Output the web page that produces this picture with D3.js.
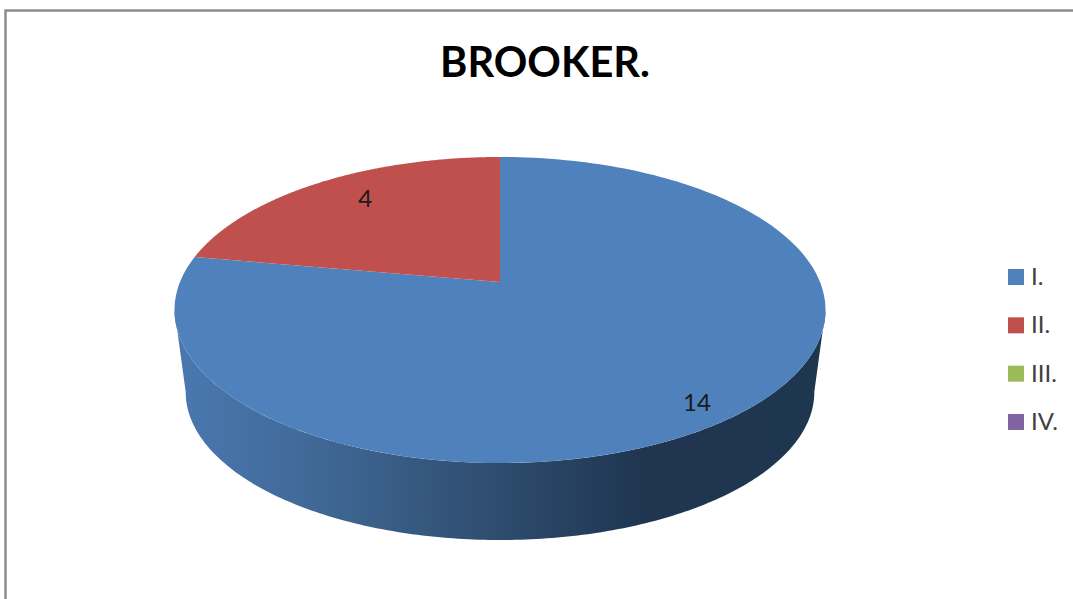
<!DOCTYPE html>
<html><head><meta charset="utf-8">
<script src="https://cdn.jsdelivr.net/npm/d3@7/dist/d3.min.js"></script>
<style>html,body{margin:0;padding:0;background:#fff}svg{display:block}</style>
</head><body><svg id="c" width="1073" height="599"></svg>
<script>
const categories = ["I.", "II.", "III.", "IV."];
const values = [14, 4, 0, 0];
const colors = ["#4f81bd", "#c0504d", "#9bbb59", "#8064a2"];
const titleText = "BROOKER.";

const svg = d3.select("#c");
const W = 1073, H = 599;
const FONT = "Lato,'Open Sans',sans-serif";

// chart frame
svg.append("path").attr("d", `M5.5,${H}V10.5H${W}`).attr("fill", "none").attr("stroke", "#8c8c8c").attr("stroke-width", 2.5);

svg.append("text").attr("x", 545).attr("y", 77).attr("text-anchor", "middle")
  .attr("font-family", FONT).attr("font-weight", 700).attr("font-size", 42)
  .attr("fill", "#000").attr("textLength", 210).attr("lengthAdjust", "spacingAndGlyphs").text(titleText);

// perspective projection of a flat pie
const persp = -0.183;
function project(theta, disc, r = 1) {
  const u = r * Math.sin(theta), v = -r * Math.cos(theta), w = 1 + persp * v;
  return [disc.cx + disc.dx * u / w, disc.cy + disc.dy * v / w];
}
const topDisc = {cx: 500, cy: 282, dx: 320, dy: 147.9};
const baseDisc = {cx: 500, cy: 365, dx: 309, dy: 143};

const pie = d3.pie().sort(null).value(d => d);
const arcs = pie(values);
const line = d3.line();
const sample = (a0, a1) => d3.range(0, 201).map(i => a0 + (a1 - a0) * i / 200);

const defs = svg.append("defs");
const grad = defs.append("linearGradient").attr("id", "side").attr("gradientUnits", "userSpaceOnUse")
  .attr("x1", 174).attr("x2", 826).attr("y1", 0).attr("y2", 0);
[[0, "#4a78b0"], [0.2, "#416a99"], [0.5, "#2e4c6e"], [0.72, "#1f3550"], [1, "#1f3650"]]
  .forEach(([o, c]) => grad.append("stop").attr("offset", o).attr("stop-color", c));

// visible side wall between the two silhouette points
const visA = Math.acos(-0.183), visB = 2 * Math.PI - visA;
arcs.forEach(d => {
  const a0 = Math.max(d.startAngle, visA), a1 = Math.min(d.endAngle, visB);
  if (a1 <= a0) return;
  const pts = sample(a0, a1);
  svg.append("path").attr("fill", "url(#side)")
    .attr("d", line(pts.map(t => project(t, topDisc)).concat(pts.slice().reverse().map(t => project(t, baseDisc)))) + "Z");
});

// top faces
arcs.forEach((d, i) => {
  if (d.endAngle <= d.startAngle) return;
  const pts = sample(d.startAngle, d.endAngle).map(t => project(t, topDisc));
  pts.push([topDisc.cx, topDisc.cy]);
  svg.append("path").attr("fill", colors[i]).attr("d", line(pts) + "Z");
});

// data labels: placed along each slice's mid angle, slightly rotated
const labelRadius = [0.89, 0.78];
const labelTurn = 3 * Math.PI / 180;
arcs.forEach((d, i) => {
  if (!d.value) return;
  const p = project((d.startAngle + d.endAngle) / 2 + labelTurn, topDisc, labelRadius[i]);
  svg.append("text").attr("x", p[0]).attr("y", p[1] + 8)
    .attr("text-anchor", "middle").attr("font-family", FONT).attr("font-size", 24)
    .attr("fill", "#1a1a1a").text(d.value);
});

// legend
const ly = d3.scalePoint().domain(categories).range([277, 422]);
const lg = svg.append("g").selectAll("g").data(categories).join("g")
  .attr("transform", d => `translate(1008,${ly(d)})`);
lg.append("rect").attr("x", 0).attr("y", -8).attr("width", 16).attr("height", 16)
  .attr("fill", (d, i) => colors[i]);
lg.append("text").attr("x", 23).attr("y", 8).attr("font-family", FONT).attr("font-size", 24)
  .attr("fill", "#404040").text(d => d);
</script></body></html>
